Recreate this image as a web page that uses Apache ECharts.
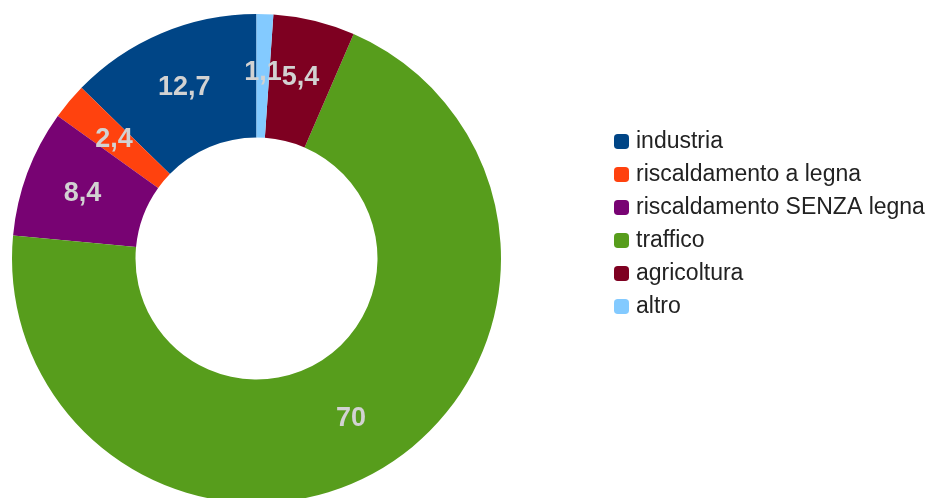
<!DOCTYPE html>
<html>
<head>
<meta charset="utf-8">
<script src="https://cdn.jsdelivr.net/npm/echarts@6/dist/echarts.min.js"></script>
<style>
  html, body { margin: 0; padding: 0; background: #ffffff; }
  #chart { width: 927px; height: 498px; }
</style>
</head>
<body>
<div id="chart"></div>
<script>
// Sources of emissions (percent shares)
const categories = ['industria', 'riscaldamento a legna', 'riscaldamento SENZA legna', 'traffico', 'agricoltura', 'altro'];
const values = [12.7, 2.4, 8.4, 70, 5.4, 1.1];
const colors = ['#004586', '#ff420e', '#780373', '#579d1c', '#7e0021', '#83caff'];

const pieData = categories.map((name, i) => ({
  name: name,
  value: values[i],
  itemStyle: { color: colors[i] }
}));

const chart = echarts.init(document.getElementById('chart'), null, { renderer: 'canvas' });

chart.setOption({
  animation: false,
  backgroundColor: '#ffffff',
  legend: {
    orient: 'vertical',
    left: 609,
    top: 125,
    itemWidth: 15,
    itemHeight: 15,
    itemGap: 10,
    icon: 'roundRect',
    data: categories,
    textStyle: {
      fontFamily: 'Liberation Sans',
      fontSize: 23,
      lineHeight: 23,
      color: '#222222',
      padding: [0, 0, 0, 2]
    }
  },
  series: [{
    type: 'pie',
    center: [256.5, 258.5],
    radius: [121, 244.5],
    startAngle: 90,
    clockwise: false,
    avoidLabelOverlap: false,
    silent: true,
    label: {
      show: true,
      position: 'inside',
      formatter: p => String(p.value).replace('.', ','),
      fontFamily: 'Liberation Sans',
      fontSize: 27,
      fontWeight: 'bold',
      color: '#d2d2d2'
    },
    labelLine: { show: false },
    data: pieData
  }]
});
</script>
</body>
</html>
